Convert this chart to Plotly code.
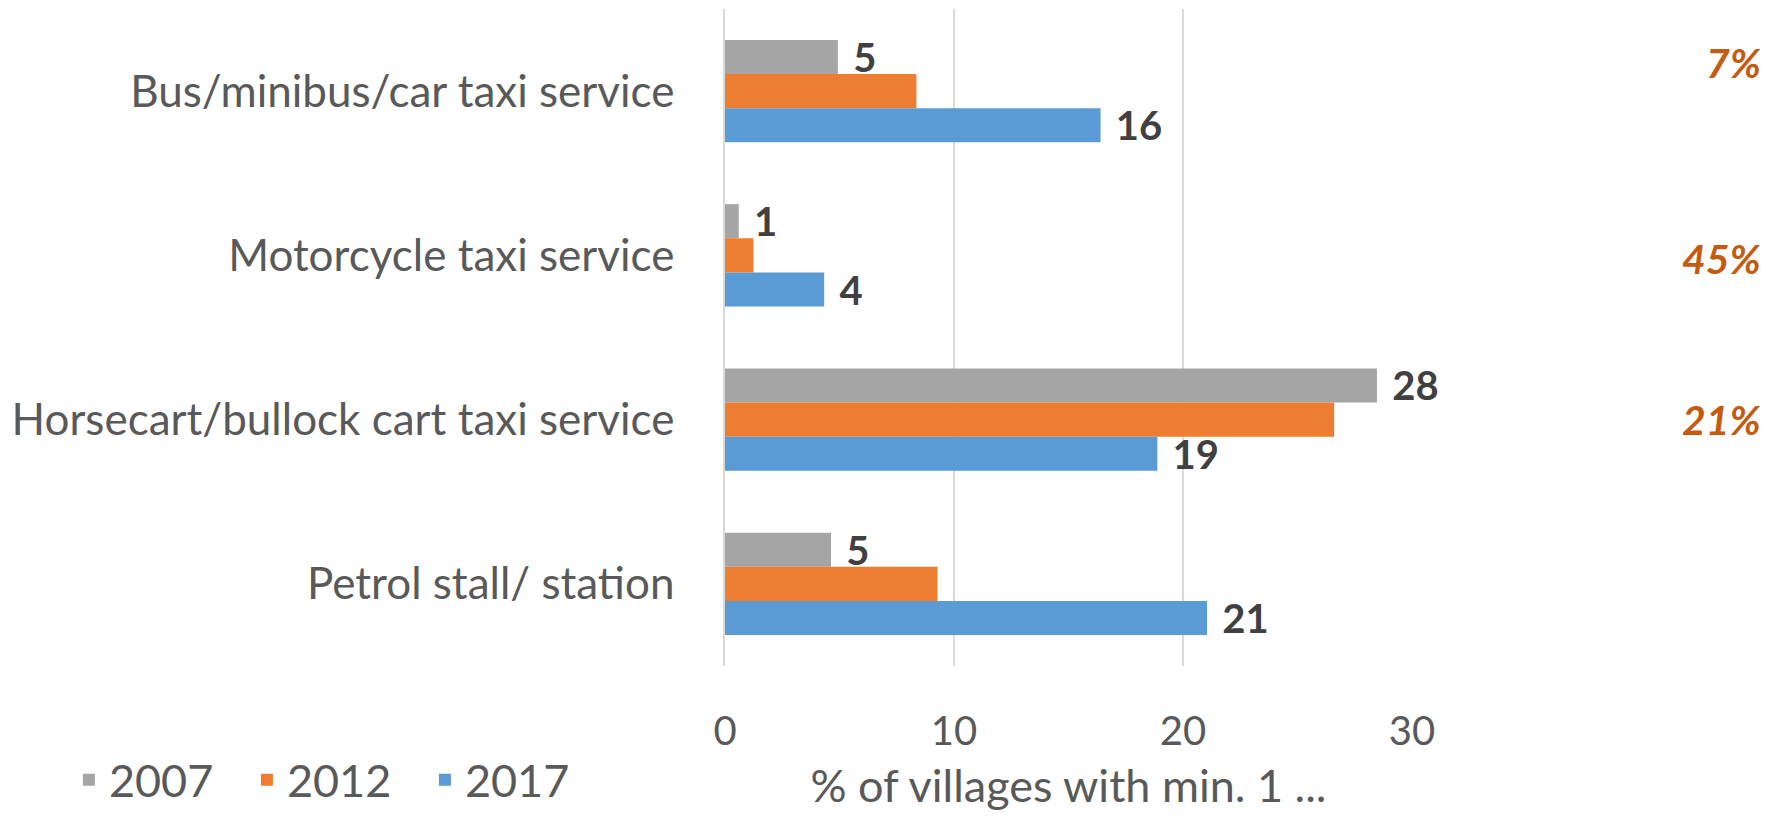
import plotly.graph_objects as go

# data
services = ["Bus/minibus/car taxi service", "Motorcycle taxi service",
            "Horsecart/bullock cart taxi service", "Petrol stall/ station"]
years = ["2007", "2012", "2017"]
share_2007 = [4.93, 0.60, 28.47, 4.63]
share_2012 = [8.36, 1.24, 26.6, 9.28]
share_2017 = [16.4, 4.33, 18.88, 21.05]
change_labels = ["7%", "45%", "21%"]
change_ypos = [0.919, 0.62, 0.375]

colors = {"2007": "#A5A5A5", "2012": "#ED7D31", "2017": "#5B9BD5"}
show_labels = {"2007": True, "2012": False, "2017": True}
font_name = "Lato, Open Sans, sans-serif"

fig = go.Figure()
for year, vals in zip(years, [share_2007, share_2012, share_2017]):
    fig.add_trace(go.Bar(
        x=vals, y=services, orientation="h", name=year,
        marker=dict(color=colors[year], line=dict(width=0)),
        texttemplate="\u00a0\u200a%{x:.0f}" if show_labels[year] else None,
        textposition="outside" if show_labels[year] else "none",
        textfont=dict(family=font_name, size=40, color="#404040", weight="bold"),
        constraintext="none", cliponaxis=False,
    ))

for txt, yp in zip(change_labels, change_ypos):
    fig.add_annotation(text=txt, xref="paper", yref="paper", x=1.511, y=yp,
                       xanchor="right", yanchor="middle", showarrow=False,
                       font=dict(family=font_name, size=41, color="#C55A11",
                                 weight="bold", style="italic"))

# page body has an 8px margin, so the figure is a bit smaller than the window
fig.update_layout(
    width=1764, height=808,
    margin=dict(l=717, r=360, t=1, b=149),
    paper_bgcolor="white", plot_bgcolor="white",
    barmode="group", bargap=0.376, bargroupgap=0,
    font=dict(family=font_name, color="#595959", size=40),
    showlegend=True,
    legend=dict(orientation="h", x=-0.955, y=-0.172, xanchor="left", yanchor="middle",
                font=dict(size=45, color="#595959"), entrywidth=133,
                traceorder="normal", bgcolor="rgba(0,0,0,0)"),
    xaxis=dict(range=[0, 30], tickvals=[0, 10, 20, 30], showgrid=True,
               gridcolor="#D9D9D9", gridwidth=1.5, zeroline=False, showline=False,
               ticks="", ticklabelstandoff=38,
               tickfont=dict(size=40, color="#595959"),
               title=dict(text="% of villages with min. 1 ...", standoff=17,
                          font=dict(size=45, color="#595959"))),
    yaxis=dict(autorange="reversed", showgrid=False, zeroline=False,
               showline=True, linecolor="#D9D9D9", linewidth=1.5,
               ticks="", ticklabelstandoff=40,
               tickfont=dict(size=44, color="#595959")),
)

fig.write_html("out.html")
